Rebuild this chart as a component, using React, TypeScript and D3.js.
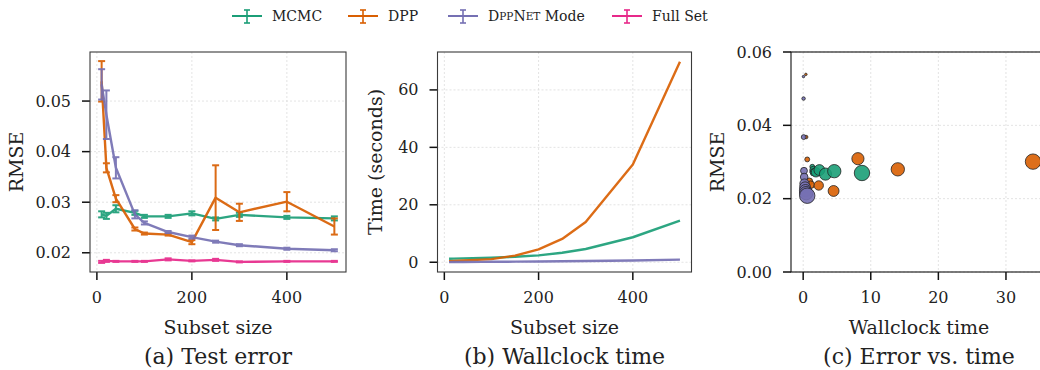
import { useEffect } from 'react';
import * as d3 from 'd3';

// subset sizes used in every run
const sizes = [10, 20, 40, 80, 100, 150, 200, 250, 300, 400, 500];
// the scatter panel only shows runs up to this subset size
const scatterMaxSize = 400;

const mcmcRmse = [0.0276, 0.0273, 0.0287, 0.0279, 0.0272, 0.0272, 0.0278, 0.0267, 0.0275, 0.027, 0.0268];
const mcmcErr = [0.0006, 0.0006, 0.0007, 0.0004, 0.0003, 0.0003, 0.0004, 0.0003, 0.0004, 0.0003, 0.0004];
const dppRmse = [0.0539, 0.0368, 0.0307, 0.0247, 0.0238, 0.0236, 0.0221, 0.0309, 0.028, 0.0301, 0.0252];
const dppErr = [0.004, 0.0009, 0.0007, 0.0003, 0.0002, 0.0002, 0.0004, 0.0064, 0.0017, 0.0019, 0.0016];
const netRmse = [0.0533, 0.0473, 0.0368, 0.0276, 0.0259, 0.0241, 0.0231, 0.0222, 0.0215, 0.0208, 0.0205];
const netErr = [0.003, 0.0048, 0.0021, 0.0008, 0.0003, 0.0002, 0.0003, 0.0002, 0.0002, 0.0002, 0.0002];
const fullRmse = [0.0182, 0.0184, 0.0183, 0.0183, 0.0183, 0.0187, 0.0184, 0.0186, 0.0182, 0.0183, 0.0183];
const fullErr = [0.0002, 0.0002, 0.0001, 0.0001, 0.0001, 0.0002, 0.0001, 0.0002, 0.0001, 0.0001, 0.0001];

// wallclock time (seconds)
const mcmcTime = [1.2, 1.25, 1.35, 1.5, 1.6, 1.9, 2.4, 3.3, 4.6, 8.7, 14.5];
const dppTime = [0.4, 0.45, 0.6, 0.9, 1.1, 2.3, 4.5, 8.1, 14.0, 34.0, 69.8];
const netTime = [0.05, 0.06, 0.08, 0.12, 0.15, 0.2, 0.28, 0.35, 0.45, 0.6, 0.9];

const sizeTicks = [0, 200, 400];
const rmseTicksA = [0.02, 0.03, 0.04, 0.05];
const timeTicks = [0, 20, 40, 60];
const wallTicks = [0, 10, 20, 30];
const rmseTicksC = [0, 0.02, 0.04, 0.06];

const GREEN = '#1b9e77';
const ORANGE = '#d95f02';
const PURPLE = '#7570b3';
const PINK = '#e7298a';

const FONT = '"DejaVu Serif", serif';

const seriesA = [
  { name: 'MCMC', color: GREEN, rmse: mcmcRmse, err: mcmcErr },
  { name: 'DPP', color: ORANGE, rmse: dppRmse, err: dppErr },
  { name: 'DppNet', color: PURPLE, rmse: netRmse, err: netErr },
  { name: 'Full Set', color: PINK, rmse: fullRmse, err: fullErr },
];
const seriesB = [
  { color: GREEN, time: mcmcTime, rmse: mcmcRmse },
  { color: ORANGE, time: dppTime, rmse: dppRmse },
  { color: PURPLE, time: netTime, rmse: netRmse },
];

const TOP = 52;
const BOTTOM = 272;

function Frame({ x0, x1, xs, ys, xTicks, yTicks, yFmt, xFmt, ylabel, ylabelX, xlabel, title, dark }: any) {
  const sc = dark ? '#111' : '#3a3a3a';
  return (
    <g>
      {xTicks.map((t: number) => (
        <line key={'gx' + t} x1={xs(t)} x2={xs(t)} y1={TOP} y2={BOTTOM} stroke="#dcdcdc" strokeWidth={0.8} strokeDasharray="2,2" />
      ))}
      {yTicks.map((t: number) => (
        <line key={'gy' + t} x1={x0} x2={x1} y1={ys(t)} y2={ys(t)} stroke="#dcdcdc" strokeWidth={0.8} strokeDasharray="2,2" />
      ))}
      {xTicks.map((t: number) => (
        <g key={'tx' + t}>
          <line x1={xs(t)} x2={xs(t)} y1={BOTTOM} y2={BOTTOM + 8} stroke="#111" strokeWidth={1.5} />
          <text x={xs(t)} y={303} textAnchor="middle" fontSize={16} fontFamily={FONT} fill="#222">{xFmt(t)}</text>
        </g>
      ))}
      {yTicks.map((t: number) => (
        <g key={'ty' + t}>
          <line x1={x0 - 8} x2={x0} y1={ys(t)} y2={ys(t)} stroke="#111" strokeWidth={1.5} />
          <text x={x0 - 19} y={ys(t) + 5.5} textAnchor="end" fontSize={16} fontFamily={FONT} fill="#222">{yFmt(t)}</text>
        </g>
      ))}
      <text transform={`translate(${ylabelX},${(TOP + BOTTOM) / 2}) rotate(-90)`} textAnchor="middle" dominantBaseline="central" fontSize={19} fontFamily={FONT} fill="#222">{ylabel}</text>
      <text x={(x0 + x1) / 2} y={334} textAnchor="middle" fontSize={19} fontFamily={FONT} fill="#222">{xlabel}</text>
      <text x={(x0 + x1) / 2} y={364} textAnchor="middle" fontSize={22} fontFamily={FONT} fill="#222">{title}</text>
      <rect x={x0} y={TOP} width={x1 - x0} height={BOTTOM - TOP} fill="none" stroke={sc} strokeWidth={1.1} />
    </g>
  );
}

function NetLabel({ x, y }: any) {
  return (
    <text x={x} y={y} fontSize={14} fontFamily={FONT} fill="#222" dominantBaseline="central">
      D<tspan fontSize={10.5}>PP</tspan>N<tspan fontSize={10.5}>ET</tspan> Mode
    </text>
  );
}

export default function App() {
  useEffect(() => {
    document.body.style.margin = '0';
  }, []);

  // panel (a)
  const ax0 = 90, ax1 = 346;
  const xA = d3.scaleLinear().domain([-14.5, 524.5]).range([ax0, ax1]);
  const yA = d3.scaleLinear().domain([0.0162, 0.0597]).range([BOTTOM, TOP]);
  // panel (b)
  const bx0 = 437.5, bx1 = 691.5;
  const xB = d3.scaleLinear().domain([-14.5, 524.5]).range([bx0, bx1]);
  const yB = d3.scaleLinear().domain([-3.4, 73.2]).range([BOTTOM, TOP]);
  // panel (c)
  const cx0 = 791, cx1 = 1047;
  const xC = d3.scaleLinear().domain([-1.8, 36.07]).range([cx0, cx1]);
  const yC = d3.scaleLinear().domain([0, 0.06]).range([BOTTOM, TOP]);
  const rC = d3.scaleSqrt().domain([0, 400]).range([0, 7.7]);

  const lineA = d3.line<number>().x((_, i) => xA(sizes[i])).y((d) => yA(d));
  const fmt2 = d3.format('.2f');
  const fmt0 = d3.format('d');

  const legendItems = [
    { color: GREEN, x: 232, label: 'MCMC' },
    { color: ORANGE, x: 348, label: 'DPP' },
    { color: PURPLE, x: 448, label: null },
    { color: PINK, x: 612, label: 'Full Set' },
  ];

  return (
    <svg width={1040} height={370} style={{ position: 'absolute', left: 0, top: 0, background: '#fff' }}>
      <defs>
        <clipPath id="clipC">
          <rect x={cx0} y={TOP} width={cx1 - cx0} height={BOTTOM - TOP} />
        </clipPath>
      </defs>

      {/* legend */}
      {legendItems.map((l, i) => (
        <g key={i}>
          <line x1={l.x} x2={l.x + 30} y1={16} y2={16} stroke={l.color} strokeWidth={2} />
          <line x1={l.x + 15} x2={l.x + 15} y1={10} y2={23} stroke={l.color} strokeWidth={1.6} />
          <line x1={l.x + 12} x2={l.x + 18} y1={10} y2={10} stroke={l.color} strokeWidth={1.6} />
          <line x1={l.x + 12} x2={l.x + 18} y1={23} y2={23} stroke={l.color} strokeWidth={1.6} />
          {l.label ? (
            <text x={l.x + 40} y={16} fontSize={14} fontFamily={FONT} fill="#222" dominantBaseline="central">{l.label}</text>
          ) : (
            <NetLabel x={l.x + 40} y={16} />
          )}
        </g>
      ))}

      {/* (a) test error */}
      <Frame x0={ax0} x1={ax1} xs={xA} ys={yA} xTicks={sizeTicks} yTicks={rmseTicksA} xFmt={fmt0} yFmt={fmt2}
        ylabel="RMSE" ylabelX={16} xlabel="Subset size" title="(a) Test error" />
      {seriesA.map((s) => (
        <g key={s.name} opacity={0.92}>
          <path d={lineA(s.rmse) || ''} fill="none" stroke={s.color} strokeWidth={2.4} strokeLinejoin="round" />
          {s.rmse.map((v, i) => {
            const x = xA(sizes[i]);
            const lo = yA(v - s.err[i]);
            const hi = yA(v + s.err[i]);
            return (
              <g key={i} stroke={s.color} strokeWidth={2}>
                <line x1={x} x2={x} y1={lo} y2={hi} />
                <line x1={x - 3.5} x2={x + 3.5} y1={lo} y2={lo} />
                <line x1={x - 3.5} x2={x + 3.5} y1={hi} y2={hi} />
              </g>
            );
          })}
        </g>
      ))}

      {/* (b) wallclock time */}
      <Frame x0={bx0} x1={bx1} xs={xB} ys={yB} xTicks={sizeTicks} yTicks={timeTicks} xFmt={fmt0} yFmt={fmt0}
        ylabel="Time (seconds)" ylabelX={375} xlabel="Subset size" title="(b) Wallclock time" />
      {seriesB.map((s, k) => {
        const ln = d3.line<number>().x((_, i) => xB(sizes[i])).y((d) => yB(d));
        return <path key={k} d={ln(s.time) || ''} fill="none" stroke={s.color} strokeWidth={2.4} strokeLinejoin="round" opacity={0.92} />;
      })}

      {/* (c) error vs time */}
      <Frame x0={cx0} x1={cx1} xs={xC} ys={yC} xTicks={wallTicks} yTicks={rmseTicksC} xFmt={fmt0} yFmt={fmt2}
        ylabel="RMSE" ylabelX={717} xlabel="Wallclock time" title="(c) Error vs. time" dark />
      <g clipPath="url(#clipC)">
        {seriesB.map((s, k) => (
          <g key={k}>
            {s.time.map((t, i) =>
              sizes[i] <= scatterMaxSize ? (
                <circle key={i} cx={xC(t)} cy={yC(s.rmse[i])} r={rC(sizes[i])} fill={s.color} fillOpacity={0.9} stroke="#222" strokeWidth={0.8} />
              ) : null
            )}
          </g>
        ))}
      </g>
    </svg>
  );
}
